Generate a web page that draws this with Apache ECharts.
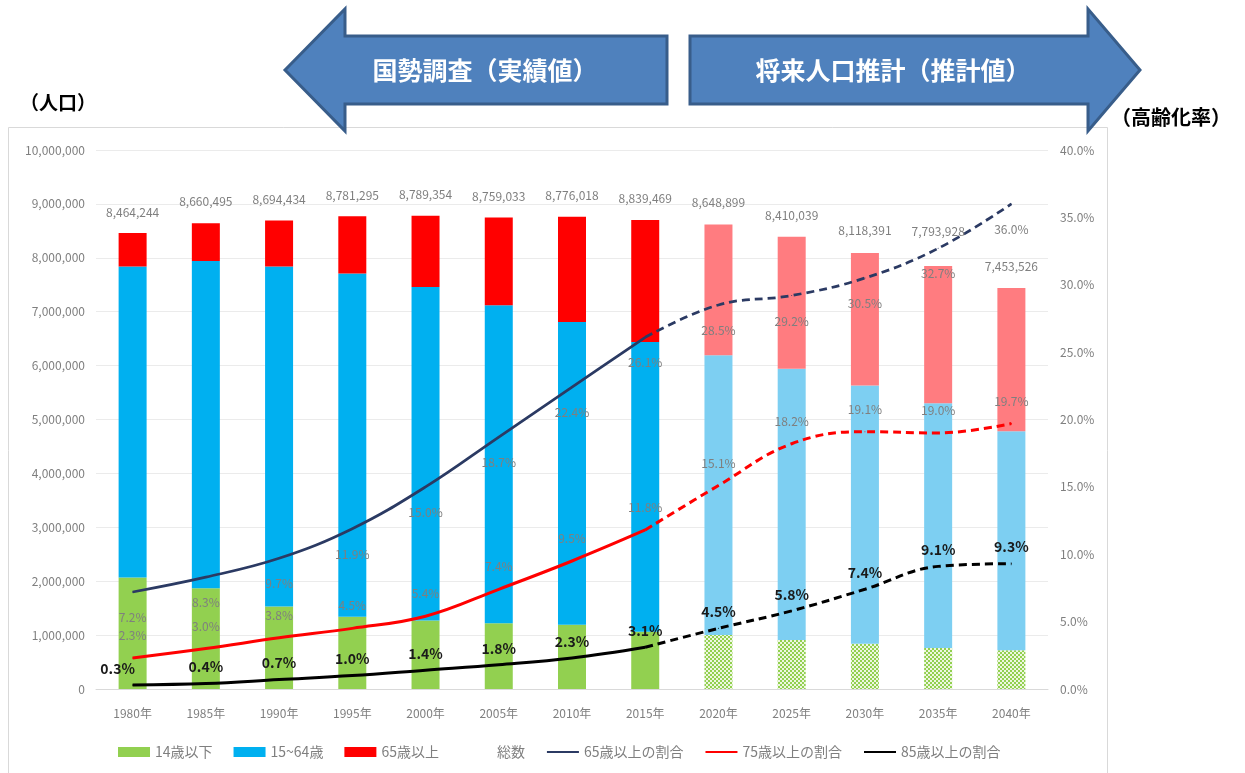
<!DOCTYPE html>
<html><head><meta charset="utf-8">
<script src="https://cdn.jsdelivr.net/npm/echarts@6/dist/echarts.min.js"></script>
<style>html,body{margin:0;padding:0;background:#fff}#c{width:1245px;height:773px}</style>
</head><body><div id="c"></div>
<script>
const years = ['1980年','1985年','1990年','1995年','2000年','2005年','2010年','2015年','2020年','2025年','2030年','2035年','2040年'];
const age0to14 = [2070000,1870000,1530000,1340000,1270000,1220000,1190000,1060000,1000000,910000,840000,760000,720000];
const age15to64 = [5770000,6070000,6310000,6370000,6190000,5900000,5620000,5380000,5190000,5030000,4790000,4540000,4060000];
const age65plus = [620000,700000,850000,1060000,1320000,1630000,1950000,2260000,2430000,2450000,2460000,2550000,2660000];
const totalPop = [8464244,8660495,8694434,8781295,8789354,8759033,8776018,8839469,8648899,8410039,8118391,7793928,7453526];
const ratio65 = [7.2,8.3,9.7,11.9,15.0,18.7,22.4,26.1,28.5,29.2,30.5,32.7,36.0];
const ratio75 = [2.3,3.0,3.8,4.5,5.4,7.4,9.5,11.8,15.1,18.2,19.1,19.0,19.7];
const ratio85 = [0.3,0.4,0.7,1.0,1.4,1.8,2.3,3.1,4.5,5.8,7.4,9.1,9.3];
const legendNames = ['14歳以下','15~64歳','65歳以上','総数','65歳以上の割合','75歳以上の割合','85歳以上の割合'];
const lastActual = '2015年';
const titleLeft = '国勢調査（実績値）';
const titleRight = '将来人口推計（推計値）';
const unitLeft = '（人口）';
const unitRight = '（高齢化率）';

const LI = years.indexOf(lastActual);
const FONT = '"Noto Sans CJK JP", "Noto Sans", sans-serif';
const GRAY = '#7f7f7f';

function checker() {
  const c = document.createElement('canvas');
  c.width = 4; c.height = 4;
  const g = c.getContext('2d');
  g.fillStyle = '#eef7e0'; g.fillRect(0, 0, 4, 4);
  g.fillStyle = '#92D050'; g.fillRect(0, 0, 2, 2); g.fillRect(2, 2, 2, 2);
  return c;
}
const pat = { image: checker(), repeat: 'repeat' };

function barData(arr, futureColor) {
  return arr.map((v, i) => i > LI ? { value: v, itemStyle: { color: futureColor } } : v);
}
const pct = p => Number(p.value).toFixed(1) + '%';

function ratioSeries(name, arr, color, width, labelCfg, labelOffsets) {
  const solid = arr.map((v, i) => {
    if (i > LI) return '-';
    const o = labelOffsets && labelOffsets[i];
    return o ? { value: v, label: { offset: o } } : v;
  });
  const dashed = arr.map((v, i) => {
    if (i < LI) return '-';
    if (i === LI) return { value: v, label: { show: false } };
    const o = labelOffsets && labelOffsets[i];
    return o ? { value: v, label: { offset: o } } : v;
  });
  const base = {
    name, type: 'line', yAxisIndex: 1, smooth: 0.4, symbol: 'circle', symbolSize: 1,
    showSymbol: true, color, itemStyle: { color }, z: 5,
    label: Object.assign({ show: true, formatter: pct, fontFamily: FONT }, labelCfg),
    emphasis: { disabled: true }
  };
  return [
    Object.assign({}, base, { data: solid, lineStyle: { color, width, type: 'solid' } }),
    Object.assign({}, base, { data: dashed, lineStyle: { color, width, type: [8, 5] } })
  ];
}

const totalData = totalPop.map((v, i) => {
  if (i === 11) return { value: v, label: { offset: [0, -17] } };
  if (i === 7) return { value: v, label: { offset: [0, 6] } };
  return v;
});

function arrowLeft() {
  return [[285, 70], [345, 9], [345, 36], [667, 36], [667, 104], [345, 104], [345, 131]];
}
function arrowRight() {
  return [[690, 36], [1088, 36], [1088, 9], [1140, 70], [1088, 131], [1088, 104], [690, 104]];
}

const chart = echarts.init(document.getElementById('c'), null, { renderer: 'canvas' });
chart.setOption({
  animation: false,
  backgroundColor: '#fff',
  textStyle: { fontFamily: FONT },
  grid: { left: 96, right: 197, top: 150, bottom: 84 },
  legend: {
    left: 113, top: 740, itemWidth: 32, itemHeight: 10, itemGap: 21,
    textStyle: { color: GRAY, fontSize: 14, fontFamily: FONT },
    selectedMode: false,
    data: [
      { name: legendNames[0], icon: 'rect' },
      { name: legendNames[1], icon: 'rect' },
      { name: legendNames[2], icon: 'rect' },
      { name: legendNames[3], itemStyle: { opacity: 0 } },
      { name: legendNames[4], itemStyle: { opacity: 0 } },
      { name: legendNames[5], itemStyle: { opacity: 0 } },
      { name: legendNames[6], itemStyle: { opacity: 0 } }
    ]
  },
  xAxis: {
    type: 'category', data: years,
    axisTick: { show: false },
    axisLine: { lineStyle: { color: '#d9d9d9' } },
    axisLabel: { color: GRAY, fontSize: 12, margin: 18, fontFamily: FONT }
  },
  yAxis: [
    {
      type: 'value', min: 0, max: 10000000, interval: 1000000,
      axisLabel: { color: GRAY, fontSize: 12, margin: 11, fontFamily: FONT, formatter: v => v.toLocaleString('en-US') },
      splitLine: { lineStyle: { color: '#ebebeb' } },
      axisLine: { show: false }, axisTick: { show: false }
    },
    {
      type: 'value', min: 0, max: 40, interval: 5, position: 'right',
      axisLabel: { color: GRAY, fontSize: 12, margin: 12, fontFamily: FONT, formatter: v => v.toFixed(1) + '%' },
      splitLine: { show: false }, axisLine: { show: false }, axisTick: { show: false }
    }
  ],
  series: [
    { name: legendNames[0], type: 'bar', stack: 'p', barWidth: 28, itemStyle: { color: '#92D050' }, data: barData(age0to14, pat), emphasis: { disabled: true } },
    { name: legendNames[1], type: 'bar', stack: 'p', barWidth: 28, itemStyle: { color: '#00B0F0' }, data: barData(age15to64, '#7DCFF2'), emphasis: { disabled: true } },
    { name: legendNames[2], type: 'bar', stack: 'p', barWidth: 28, itemStyle: { color: '#FF0000' }, data: barData(age65plus, '#FF7C80'), emphasis: { disabled: true } },
    {
      name: legendNames[3], type: 'line', yAxisIndex: 0, data: totalData,
      symbol: 'circle', symbolSize: 1, color: 'transparent', itemStyle: { color: 'transparent' },
      lineStyle: { width: 0, color: 'transparent' }, z: 6,
      label: { show: true, position: 'top', distance: 14, color: GRAY, fontSize: 12, fontFamily: FONT, formatter: p => Number(p.value).toLocaleString('en-US') },
      emphasis: { disabled: true }
    },
    ...ratioSeries(legendNames[4], ratio65, '#2B3A63', 2.75, { position: 'bottom', distance: 19, color: GRAY, fontSize: 12 }),
    ...ratioSeries(legendNames[5], ratio75, '#FF0000', 3, { position: 'top', distance: 16, color: GRAY, fontSize: 12 }),
    ...ratioSeries(legendNames[6], ratio85, '#000000', 3, { position: 'top', distance: 9, color: '#1a1a1a', fontSize: 14, fontWeight: 'bold' }, { 0: [-15, 0] })
  ],
  graphic: [
    { type: 'rect', z: -10, shape: { x: 8.5, y: 127.5, width: 1099, height: 646 }, style: { fill: 'none', stroke: '#d9d9d9', lineWidth: 1 } },
    { type: 'polygon', z: 10, shape: { points: arrowLeft() }, style: { fill: '#4F81BD', stroke: '#385D8A', lineWidth: 3 } },
    { type: 'polygon', z: 10, shape: { points: arrowRight() }, style: { fill: '#4F81BD', stroke: '#385D8A', lineWidth: 3 } },
    { type: 'text', z: 11, x: 485, y: 70, style: { text: titleLeft, fill: '#fff', font: 'bold 25px ' + FONT, align: 'center', verticalAlign: 'middle' } },
    { type: 'text', z: 11, x: 893, y: 70, style: { text: titleRight, fill: '#fff', font: 'bold 25px ' + FONT, align: 'center', verticalAlign: 'middle' } },
    { type: 'text', z: 11, x: 20, y: 103, style: { text: unitLeft, fill: '#000', font: 'bold 19px ' + FONT, align: 'left', verticalAlign: 'middle' } },
    { type: 'text', z: 11, x: 1111, y: 117, style: { text: unitRight, fill: '#000', font: 'bold 20px ' + FONT, align: 'left', verticalAlign: 'middle' } }
  ]
});
</script>
</body></html>
